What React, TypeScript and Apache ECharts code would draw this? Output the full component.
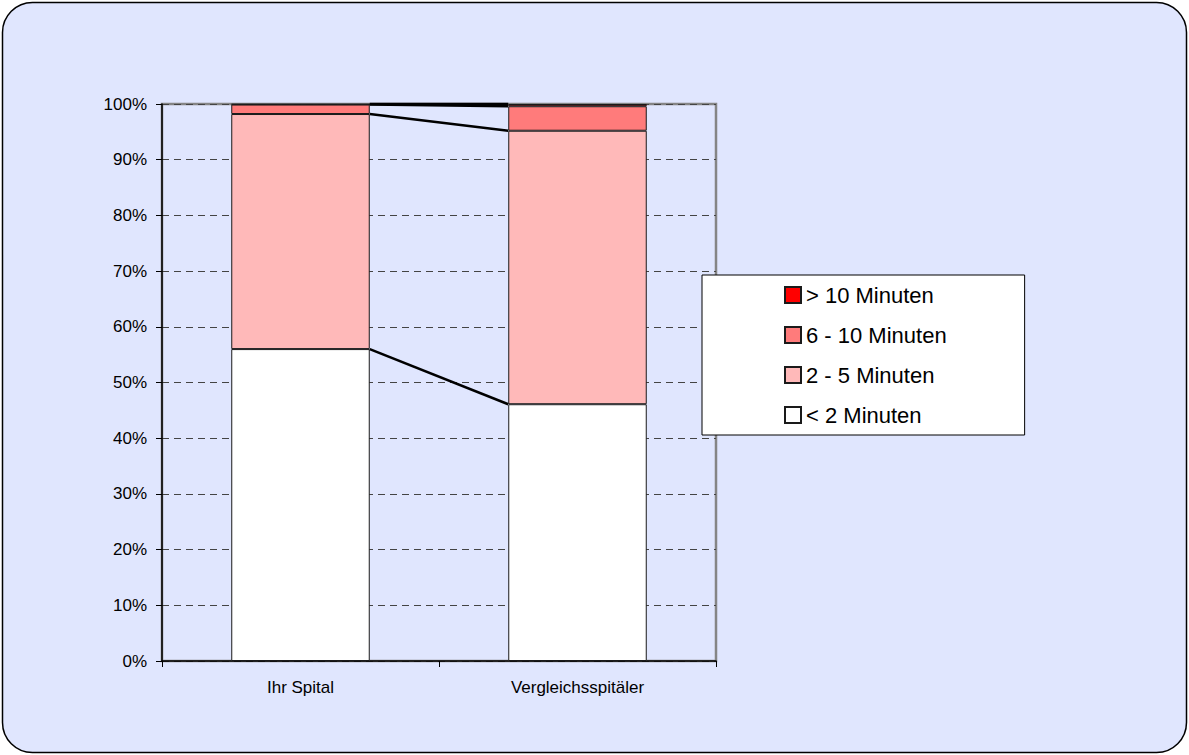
import React, { useEffect, useRef } from "react";
import * as echarts from "echarts";

const categories = ["Ihr Spital", "Vergleichsspitäler"];
const seriesNames = ["< 2 Minuten", "2 - 5 Minuten", "6 - 10 Minuten", "> 10 Minuten"];
const under2 = [56.0, 46.1];
const from2to5 = [42.2, 49.1];
const from6to10 = [1.7, 4.4];
const over10 = [0.1, 0.4];
const yTicks = [0, 10, 20, 30, 40, 50, 60, 70, 80, 90, 100];

const colors = ["#FFFFFF", "#FFB9B9", "#FF7B7B", "#FF0000"];
const BG = "#E0E6FE";
const FONT = "'Liberation Sans', Arial, sans-serif";

export default function App() {
  const ref = useRef<HTMLDivElement>(null);
  useEffect(() => {
    document.body.style.margin = "0";
    const chart = echarts.init(ref.current!, undefined, { renderer: "svg" });
    const values = [under2, from2to5, from6to10, over10];
    const cum = categories.map((_, ci) => {
      let s = 0;
      return values.map((arr) => (s += arr[ci]));
    });
    const lineData = values.map((_, k) => [0, cum[0][k], cum[1][k]]);

    const barSeries = seriesNames.map((name, i) => ({
      name,
      type: "bar",
      stack: "total",
      barWidth: "50%",
      data: values[i],
      itemStyle: { color: colors[i], borderColor: "#1a1a1a", borderWidth: 1 },
      z: 3,
    }));

    chart.setOption({
      animation: false,
      backgroundColor: "#FFFFFF",
      graphic: [
        {
          type: "rect",
          z: -10,
          silent: true,
          shape: { x: 2.5, y: 2.5, width: 1184, height: 750, r: 30 },
          style: { fill: BG, stroke: "#000", lineWidth: 1.5 },
        },
      ],
      grid: {
        left: 162,
        right: 473,
        top: 104,
        bottom: 94,
        show: true,
        backgroundColor: BG,
        borderColor: "#858585",
        borderWidth: 2.5,
      },
      legend: {
        data: [...seriesNames].reverse(),
        orient: "vertical",
        left: 702,
        top: 275,
        padding: [9, 78, 9, 82],
        itemGap: 18,
        itemWidth: 16,
        itemHeight: 16,
        backgroundColor: "#FFFFFF",
        borderColor: "#000",
        borderWidth: 1,
        selectedMode: false,
        icon: "rect",
        textStyle: { fontFamily: FONT, fontSize: 22, color: "#000" },
      },
      xAxis: {
        type: "category",
        data: categories,
        axisLine: { lineStyle: { color: "#000", width: 1.5 } },
        axisTick: { show: true, length: 6, lineStyle: { color: "#000" } },
        axisLabel: { fontFamily: FONT, fontSize: 17, color: "#000", margin: 18 },
      },
      yAxis: {
        type: "value",
        min: 0,
        max: 100,
        interval: 10,
        axisLine: { show: true, lineStyle: { color: "#000", width: 1.5 } },
        axisTick: { show: true, length: 6, lineStyle: { color: "#000" } },
        axisLabel: {
          fontFamily: FONT,
          fontSize: 17,
          color: "#000",
          margin: 15,
          formatter: (v: number) => (yTicks.includes(v) ? v + "%" : ""),
        },
        splitLine: {
          show: true,
          lineStyle: { color: "#444", type: [7, 5], width: 1 },
        },
      },
      series: [
        ...barSeries,
        {
          type: "custom",
          name: "seriesLines",
          clip: false,
          z: 4,
          silent: true,
          encode: { x: 0, y: 1 },
          data: lineData,
          renderItem: (params: any, api: any) => {
            const p0 = api.coord([0, api.value(1)]);
            const p1 = api.coord([1, api.value(2)]);
            const band = api.size([1, 0])[0];
            const half = band * 0.25;
            return {
              type: "line",
              shape: { x1: p0[0] + half, y1: p0[1], x2: p1[0] - half, y2: p1[1] },
              style: { stroke: "#000", lineWidth: 2.5 },
            };
          },
        },
      ],
    });
    return () => chart.dispose();
  }, []);
  return <div ref={ref} style={{ width: 1189, height: 755 }} />;
}
